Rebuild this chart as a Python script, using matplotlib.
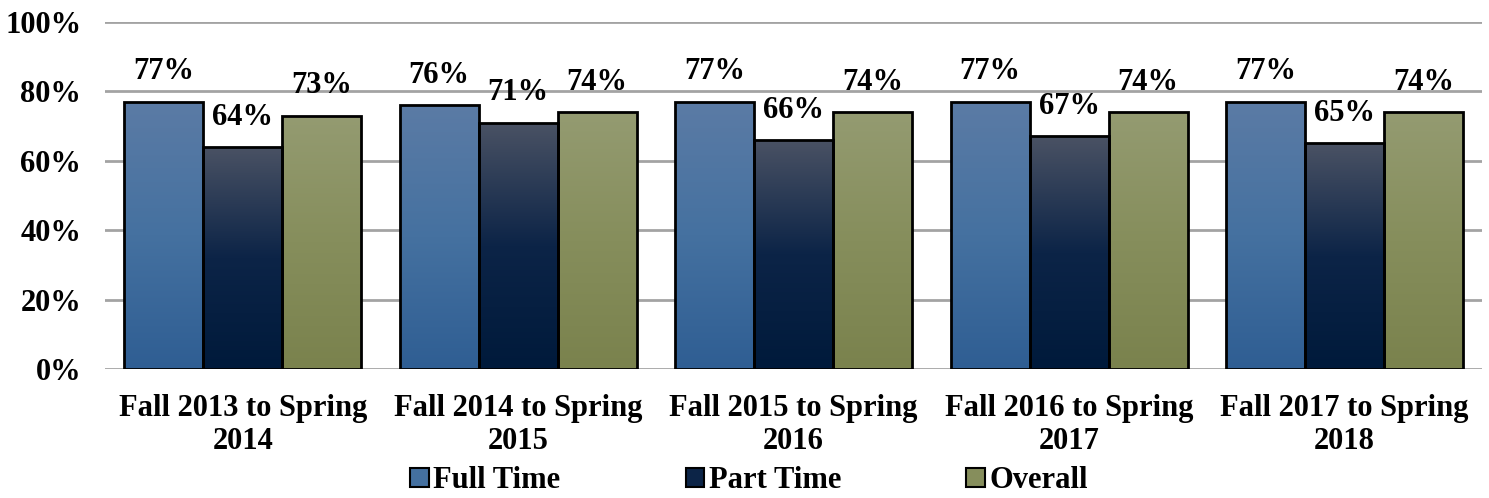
import numpy as np
import matplotlib.pyplot as plt
from matplotlib.colors import LinearSegmentedColormap
from matplotlib.patches import Patch

# data
periods = ["Fall 2013 to Spring\n2014", "Fall 2014 to Spring\n2015",
           "Fall 2015 to Spring\n2016", "Fall 2016 to Spring\n2017",
           "Fall 2017 to Spring\n2018"]
full_time = [77, 76, 77, 77, 77]
part_time = [64, 71, 66, 67, 65]
overall = [73, 74, 74, 74, 74]
series_names = ["Full Time", "Part Time", "Overall"]

# gradient colours top -> bottom
grads = [
    ["#5b7ba5", "#4571a0", "#2f5e93"],
    ["#4a5264", "#0c2447", "#001a3b"],
    ["#949b71", "#868e5c", "#7a824d"],
]
legend_cols = ["#4470a0", "#0c2447", "#868e5c"]

plt.rcParams['font.family'] = ['Liberation Serif', 'DejaVu Serif']
plt.rcParams['font.weight'] = 'bold'
fs = 22

fig = plt.figure(figsize=(14.89, 4.98), dpi=100)
ax = fig.add_axes([0.0705, 0.259, 0.925, 0.697])

x = np.arange(len(periods))
w = 0.287
offsets = [-w, 0, w]
grad_img = np.linspace(0, 1, 256).reshape(-1, 1)

for vals, off, cols in zip([full_time, part_time, overall], offsets, grads):
    cmap = LinearSegmentedColormap.from_list("g", cols[::-1])
    bars = ax.bar(x + off, vals, w, facecolor="none", edgecolor="black",
                  linewidth=2, zorder=3)
    for b, v in zip(bars, vals):
        x0 = b.get_x()
        im = ax.imshow(grad_img, cmap=cmap, aspect="auto", origin="lower",
                       extent=[x0, x0 + w, 0, v], zorder=2)
        im.set_clip_path(b)
        ax.annotate(f"{v}%", (x0 + w / 2, v), xytext=(0, 11),
                    textcoords="offset points", ha="center", va="bottom",
                    fontsize=fs, fontweight="bold")

ax.set_xlim(-0.5, len(periods) - 0.5)
ax.set_ylim(0, 100)
ax.set_yticks(range(0, 101, 20))
ax.set_yticklabels([f"{t}%" for t in range(0, 101, 20)], fontsize=fs,
                   fontweight="bold")
ax.set_xticks(x)
ax.set_xticklabels(periods, fontsize=fs, fontweight="bold", linespacing=1.2)
ax.tick_params(length=0)
ax.tick_params(axis="x", pad=18)
ax.tick_params(axis="y", pad=17)
ax.grid(axis="y", color="#a3a3a3", linewidth=2, zorder=0)
ax.set_axisbelow(True)
for s in ax.spines.values():
    s.set_visible(False)

handles = [Patch(facecolor=c, edgecolor="black", linewidth=1.5) for c in legend_cols]
fig.legend(handles, series_names, loc="lower center", ncol=3, frameon=False,
           bbox_to_anchor=(0.503, -0.05), fontsize=fs, handlelength=0.6,
           handleheight=0.6, handletextpad=0.15, columnspacing=4.1)

fig.savefig("out.png", dpi=100)
